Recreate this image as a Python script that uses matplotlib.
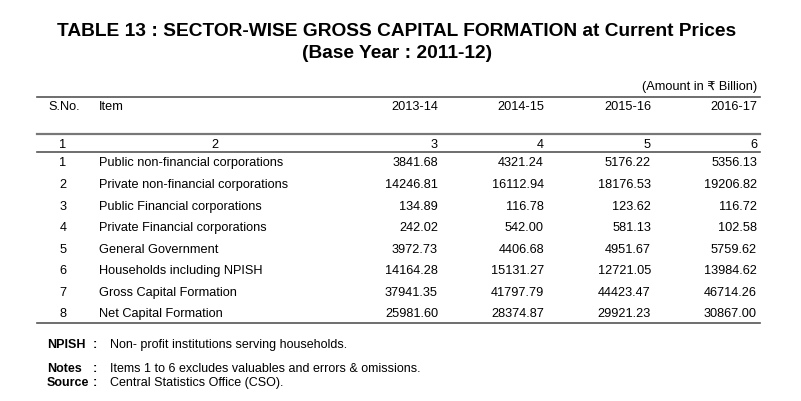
import matplotlib.pyplot as plt
from matplotlib.lines import Line2D

W, H = 801, 402

years = ['2013-14', '2014-15', '2015-16', '2016-17']
col_nums = ['1', '2', '3', '4', '5', '6']
items = ['Public non-financial corporations',
         'Private non-financial corporations',
         'Public Financial corporations',
         'Private Financial corporations',
         'General Government',
         'Households including NPISH',
         'Gross Capital Formation',
         'Net Capital Formation']
v_2013 = [3841.68, 14246.81, 134.89, 242.02, 3972.73, 14164.28, 37941.35, 25981.60]
v_2014 = [4321.24, 16112.94, 116.78, 542.00, 4406.68, 15131.27, 41797.79, 28374.87]
v_2015 = [5176.22, 18176.53, 123.62, 581.13, 4951.67, 12721.05, 44423.47, 29921.23]
v_2016 = [5356.13, 19206.82, 116.72, 102.58, 5759.62, 13984.62, 46714.26, 30867.00]

regular = ['Liberation Sans', 'DejaVu Sans']

fig = plt.figure(figsize=(W / 100, H / 100), dpi=100)
fig.patch.set_facecolor('white')


def tx(x, y, s, **kw):
    # pixel coordinates from top-left
    kw.setdefault('family', regular)
    kw.setdefault('fontsize', 9.2)
    kw.setdefault('va', 'center')
    fig.text(x / W, 1 - y / H, s, color='black', **kw)


def hline(y, lw=1.2, color='#555555'):
    fig.add_artist(Line2D([37 / W, 760 / W], [1 - y / H, 1 - y / H],
                          transform=fig.transFigure, color=color, lw=lw))


tx(397, 31, 'TABLE 13 : SECTOR-WISE GROSS CAPITAL FORMATION at Current Prices',
   ha='center', fontsize=13.8, weight='bold')
tx(397, 53, '(Base Year : 2011-12)', ha='center', fontsize=13.8, weight='bold')
tx(757, 87, '(Amount in \u20b9 Billion)', ha='right')

hline(97.5)
col_x = [438, 544, 651, 757]
tx(48, 107, 'S.No.')
tx(99, 107, 'Item')
for x, y in zip(col_x, years):
    tx(x, 107, y, ha='right')
hline(135, lw=1.6, color='#777777')

tx(63, 145, col_nums[0], ha='center')
tx(215, 145, col_nums[1], ha='center')
for x, n in zip(col_x, col_nums[2:]):
    tx(x, 145, n, ha='right')
hline(152.7)

row_y = [163, 185, 207, 228, 250, 271, 293, 314]
for i, (y, item) in enumerate(zip(row_y, items)):
    tx(63, y, str(i + 1), ha='center')
    tx(99, y, item)
    for x, vals in zip(col_x, [v_2013, v_2014, v_2015, v_2016]):
        tx(x, y, f'{vals[i]:.2f}', ha='right')
hline(323.5)

notes = [('NPISH', 345, 'Non- profit institutions serving households.'),
         ('Notes', 369, 'Items 1 to 6 excludes valuables and errors & omissions.'),
         ('Source', 383, 'Central Statistics Office (CSO).')]
for lab, y, txt in notes:
    tx(47, y, lab, fontsize=9, weight='bold')
    tx(97, y, ':', fontsize=9, weight='bold', ha='right')
    tx(110, y, txt, fontsize=9)

fig.savefig('out.png', dpi=100)
